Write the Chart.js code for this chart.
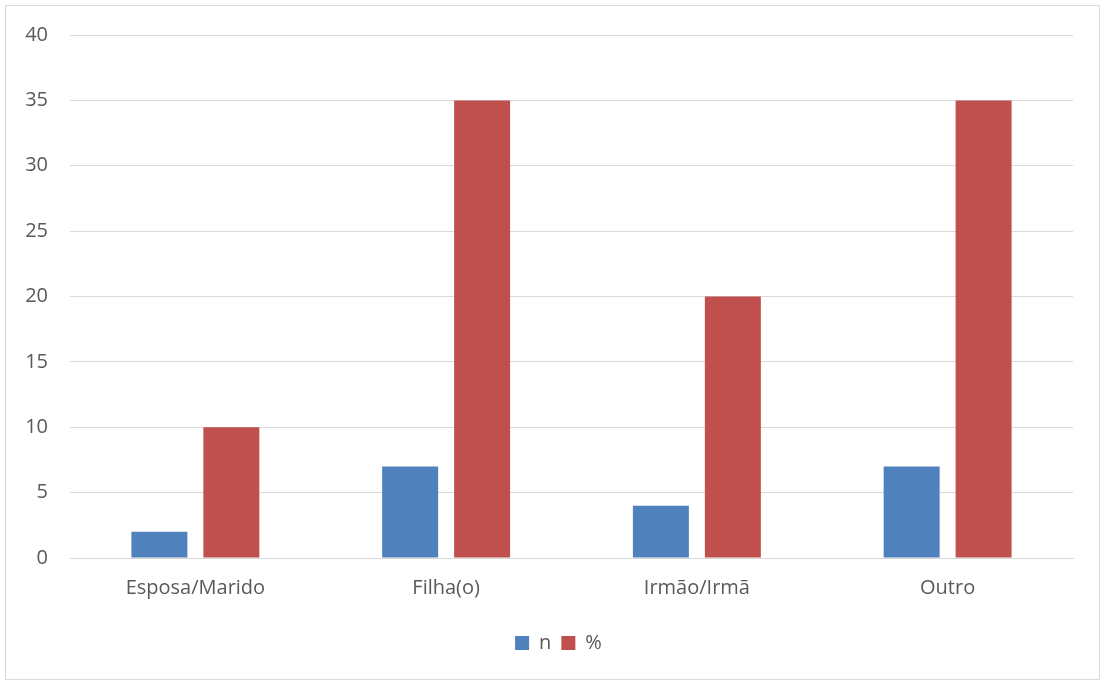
<!DOCTYPE html>
<html>
<head>
<meta charset="utf-8">
<script src="https://cdn.jsdelivr.net/npm/chart.js@4"></script>
<style>
  html, body { margin: 0; padding: 0; background: #fff; }
  #frame { position: absolute; left: 5px; top: 5px; width: 1093px; height: 673px; border: 1px solid #d9d9d9; }
  #c { display: block; }
</style>
</head>
<body>
<div id="frame"><canvas id="c" width="1093" height="673"></canvas></div>
<script>
const categories = ["Esposa/Marido", "Filha(o)", "Irmão/Irmã", "Outro"];
const seriesN = [2, 7, 4, 7];
const seriesPct = [10, 35, 20, 35];
const seriesNames = ["n", "%"];
const yTicks = [0, 5, 10, 15, 20, 25, 30, 35, 40];

const FONT = "'Open Sans', sans-serif";
const TXT = "#595959";

const legendShift = {
  id: "legendShift",
  afterLayout(chart) {
    if (chart.legend) { chart.legend.left += 19; chart.legend.right += 19; }
  }
};

new Chart(document.getElementById("c"), {
  type: "bar",
  data: {
    labels: categories,
    datasets: [
      { label: seriesNames[0], data: seriesN, backgroundColor: "#4f81bd", borderWidth: 0 },
      { label: seriesNames[1], data: seriesPct, backgroundColor: "#c0504d", borderWidth: 0 }
    ]
  },
  plugins: [legendShift],
  options: {
    responsive: false,
    animation: false,
    devicePixelRatio: 1,
    categoryPercentage: 0.574,
    barPercentage: 0.778,
    layout: { padding: { top: 29, right: 26, left: 0, bottom: 16 } },
    plugins: {
      tooltip: { enabled: false },
      legend: {
        position: "bottom",
        labels: {
          font: { family: FONT, size: 20 },
          color: TXT,
          boxWidth: 14,
          boxHeight: 14,
          padding: 10
        }
      }
    },
    scales: {
      x: {
        grid: { display: false, drawTicks: false },
        border: { display: true, color: "#d9d9d9" },
        ticks: { font: { family: FONT, size: 20 }, color: TXT, padding: 18, maxRotation: 0 },
        afterFit(s) { s.height = 65; }
      },
      y: {
        min: 0, max: 40,
        afterBuildTicks(s) { s.ticks = yTicks.map(v => ({ value: v })); },
        grid: { color: "#d9d9d9", drawTicks: false },
        border: { display: false },
        ticks: { font: { family: FONT, size: 20 }, color: TXT, padding: 22 },
        afterFit(s) { s.width = 64; s.paddingTop = 0; s.paddingBottom = 0; }
      }
    }
  }
});
</script>
</body>
</html>
